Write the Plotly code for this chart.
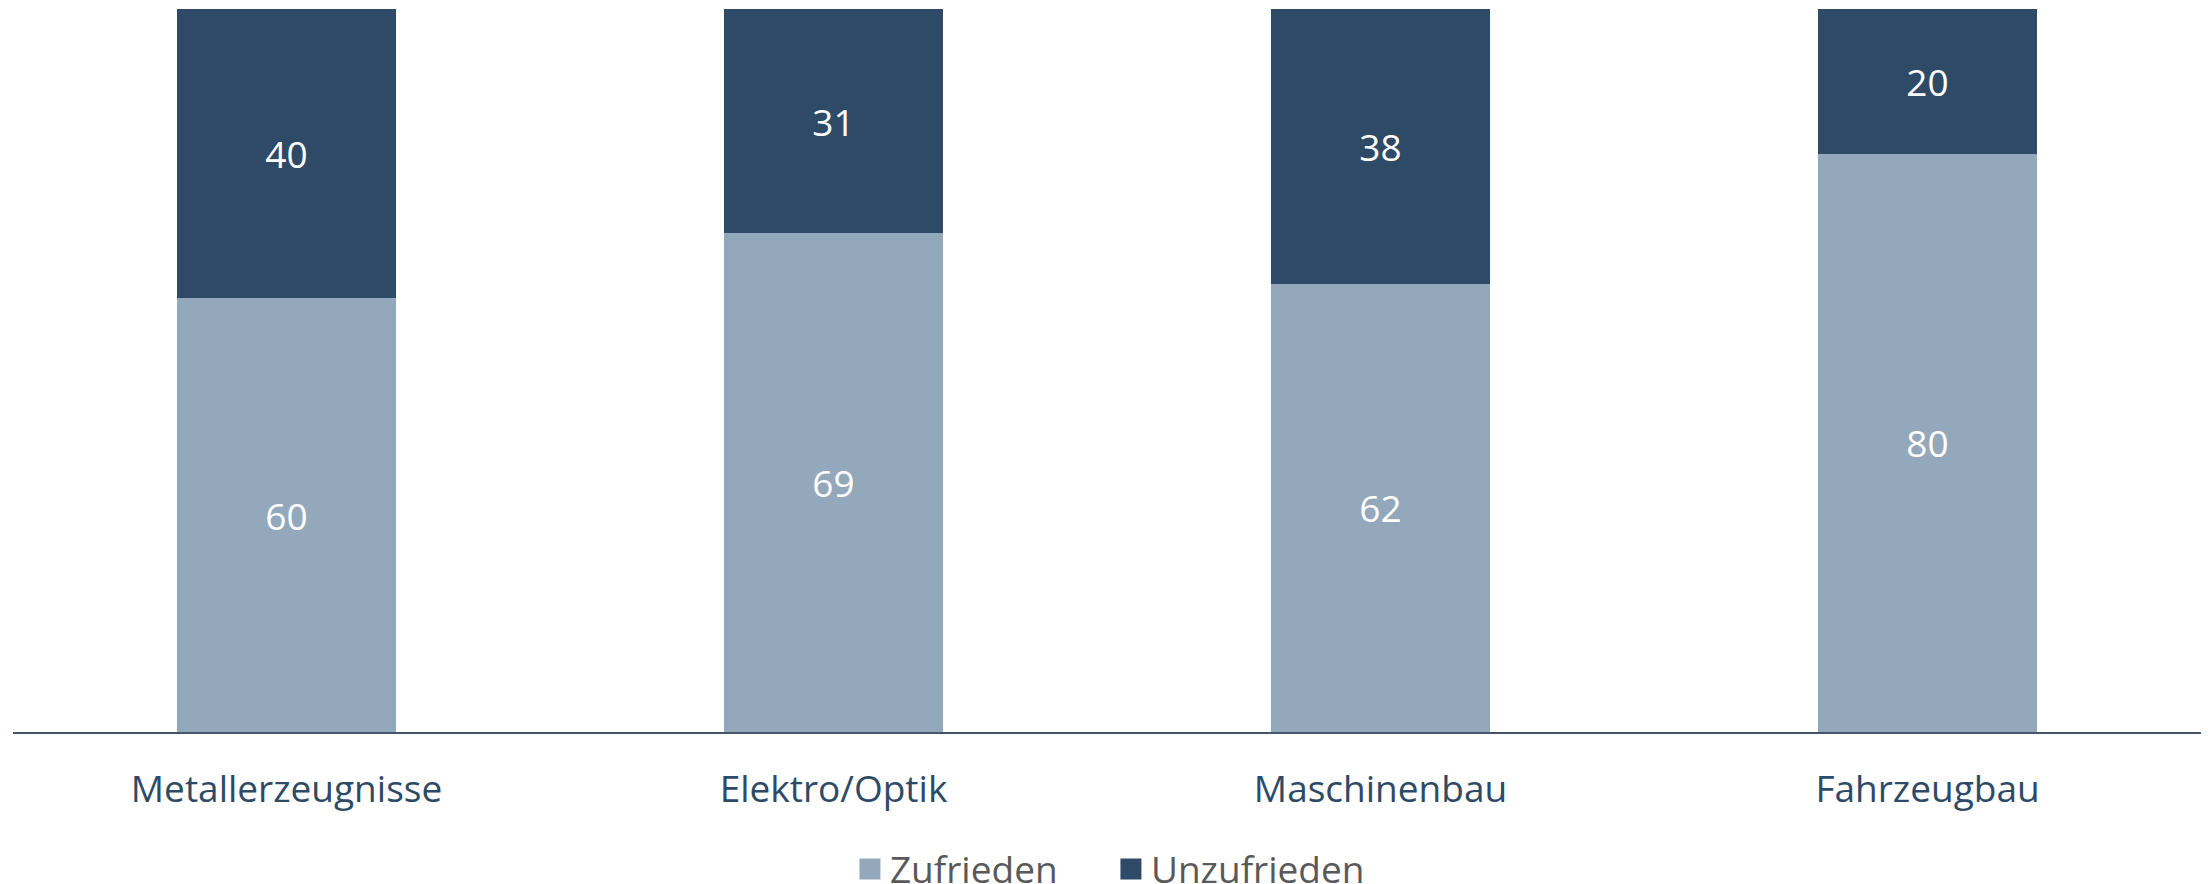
import plotly.graph_objects as go

categories = ["Metallerzeugnisse", "Elektro/Optik", "Maschinenbau", "Fahrzeugbau"]
series_names = ["Zufrieden", "Unzufrieden"]
zufrieden = [60, 69, 62, 80]
unzufrieden = [40, 31, 38, 20]

light = "#94A8BC"
dark = "#2E4A66"
font_family = "'Open Sans', Lato, sans-serif"

fig = go.Figure()
for name, vals, col in [(series_names[0], zufrieden, light), (series_names[1], unzufrieden, dark)]:
    fig.add_trace(go.Bar(
        x=categories, y=vals, name=name, showlegend=False, legendgroup=name,
        marker=dict(color=col, line=dict(width=0)),
        text=vals, textposition="inside", insidetextanchor="middle",
        textangle=0, textfont=dict(color="white", size=37, family=font_family),
        hoverinfo="x+y+name",
    ))
# legend entries with larger square symbols
for name, col in [(series_names[0], light), (series_names[1], dark)]:
    fig.add_trace(go.Scatter(
        x=[None], y=[None], mode="markers", name=name, legendgroup=name,
        marker=dict(symbol="square", size=16, color=col, line=dict(color=col, width=5)),
        showlegend=True,
    ))

fig.update_layout(
    barmode="stack",
    bargap=0.6,
    width=2209, height=884,
    margin=dict(l=13, r=8, t=9, b=152, autoexpand=False),
    paper_bgcolor="white", plot_bgcolor="white",
    font=dict(family=font_family),
    showlegend=True,
    legend=dict(
        orientation="h", x=0.5018, xanchor="center", y=-0.190, yanchor="middle",
        font=dict(size=37, color="#595959", family=font_family),
        itemwidth=30, traceorder="normal",
        entrywidth=216, entrywidthmode="pixels",
    ),
)
fig.update_xaxes(
    showline=True, linecolor="#44546A", linewidth=2,
    ticks="outside", ticklen=24, tickcolor="rgba(0,0,0,0)",
    tickfont=dict(size=37, color="#2E4A66", family=font_family),
    showgrid=False, automargin=False,
)
fig.update_yaxes(range=[0, 100], visible=False, showgrid=False, automargin=False)

fig.write_html(
    "out.html",
    config={"displayModeBar": False},
    post_script="document.body.style.margin='0px';document.body.style.overflow='hidden';",
)
